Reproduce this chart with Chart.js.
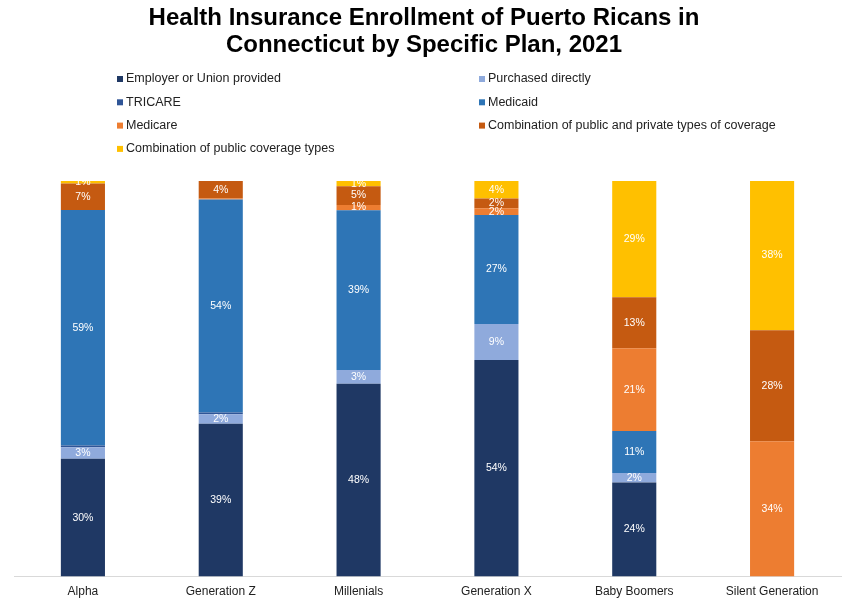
<!DOCTYPE html>
<html>
<head>
<meta charset="utf-8">
<script src="https://cdn.jsdelivr.net/npm/chart.js@4"></script>
<style>
  html, body { margin: 0; padding: 0; background: #fff; }
  #wrap { width: 849px; height: 601px; }
</style>
</head>
<body>
<div id="wrap"><canvas id="myChart" width="849" height="601"></canvas></div>
<script>
// Share of enrollment (%) by generation and plan type
const categories = ["Alpha", "Generation Z", "Millenials", "Generation X", "Baby Boomers", "Silent Generation"];
const employer = [29.7, 38.6, 47.6, 54.3, 23.8, 0];
const purchased = [2.9, 2.4, 3.4, 9.0, 2.4, 0];
const tricare = [0.45, 0.45, 0, 0, 0, 0];
const medicaid = [59.4, 53.7, 39.4, 27.3, 10.6, 0];
const medicare = [0, 0.3, 1.3, 1.7, 20.9, 34.2];
const publicPrivate = [6.7, 4.4, 4.6, 2.45, 12.9, 28.1];
const publicOnly = [0.6, 0, 1.3, 4.4, 29.4, 37.7];

const titleLines = ["Health Insurance Enrollment of Puerto Ricans in", "Connecticut by Specific Plan, 2021"];
const FONT = '"Liberation Sans", Arial, Helvetica, sans-serif';

const series = [
  { label: "Employer or Union provided", data: employer, color: "#1F3864" },
  { label: "Purchased directly", data: purchased, color: "#8FAADC" },
  { label: "TRICARE", data: tricare, color: "#2F5597" },
  { label: "Medicaid", data: medicaid, color: "#2E75B6" },
  { label: "Medicare", data: medicare, color: "#ED7D31" },
  { label: "Combination of public and private types of coverage", data: publicPrivate, color: "#C55A11" },
  { label: "Combination of public coverage types", data: publicOnly, color: "#FFC000" },
];

// 100% stacked: each bar is scaled to the sum of its column
const totals = categories.map((_, j) => series.reduce((sum, s) => sum + s.data[j], 0));

// Title drawn above the plot
const titlePlugin = {
  id: "titleLines",
  afterDraw(chart) {
    const ctx = chart.ctx;
    ctx.save();
    ctx.fillStyle = "#000";
    ctx.font = "bold 24px " + FONT;
    ctx.textAlign = "center";
    ctx.textBaseline = "middle";
    titleLines.forEach((t, i) => ctx.fillText(t, 424, 18 + i * 27));
    ctx.restore();
  },
};

// Two-column legend under the title
const gridLegend = {
  id: "gridLegend",
  afterDraw(chart) {
    const ctx = chart.ctx;
    const cols = [117, 479];
    ctx.save();
    ctx.font = "12.5px " + FONT;
    ctx.textBaseline = "middle";
    chart.data.datasets.forEach((ds, i) => {
      const x = cols[i % 2];
      const y = 79 + Math.floor(i / 2) * 23.3;
      ctx.fillStyle = ds.backgroundColor;
      ctx.fillRect(x, y - 3, 6, 6);
      ctx.fillStyle = "#222";
      ctx.fillText(ds.label, x + 9, y);
    });
    ctx.restore();
  },
};

// Percent labels in the middle of each segment
const segmentLabels = {
  id: "segmentLabels",
  afterDatasetsDraw(chart) {
    const ctx = chart.ctx;
    ctx.save();
    ctx.font = "10.5px " + FONT;
    ctx.fillStyle = "#fff";
    ctx.textAlign = "center";
    ctx.textBaseline = "middle";
    chart.data.datasets.forEach((ds, i) => {
      const meta = chart.getDatasetMeta(i);
      meta.data.forEach((bar, j) => {
        const v = Math.round(ds.shares[j]);
        if (v < 1) return;
        ctx.fillText(v + "%", bar.x, (bar.y + bar.base) / 2);
      });
    });
    ctx.restore();
  },
};

new Chart("myChart", {
  type: "bar",
  data: {
    labels: categories,
    datasets: series.map((s) => ({
      label: s.label,
      shares: s.data,
      data: s.data.map((v, j) => (v / totals[j]) * 100),
      backgroundColor: s.color,
      borderWidth: 0,
      categoryPercentage: 1,
      barPercentage: 0.32,
    })),
  },
  options: {
    responsive: false,
    animation: false,
    layout: { padding: { top: 181, left: 14, right: 8, bottom: -6 } },
    plugins: {
      legend: { display: false },
      title: { display: false },
      tooltip: { enabled: false },
    },
    scales: {
      x: {
        stacked: true,
        grid: { display: false, drawTicks: false },
        border: { display: true, color: "#d9d9d9", width: 1 },
        ticks: { color: "#222", padding: 8, font: { size: 12, family: FONT } },
      },
      y: {
        stacked: true,
        display: false,
        min: 0,
        max: 100,
      },
    },
  },
  plugins: [titlePlugin, gridLegend, segmentLabels],
});
</script>
</body>
</html>
